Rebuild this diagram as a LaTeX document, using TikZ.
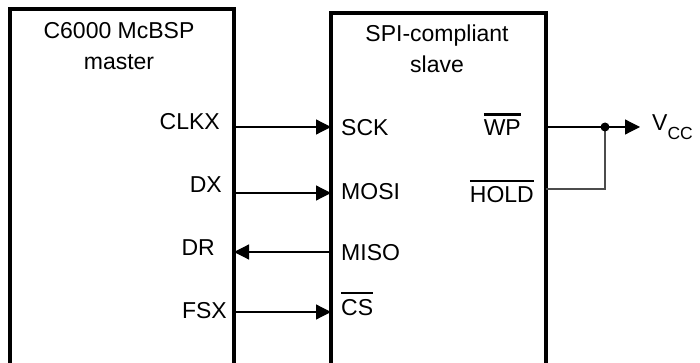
\documentclass[tikz,border=0pt]{standalone}
\usepackage{fontspec}
\setmainfont{Liberation Sans}
\usetikzlibrary{arrows.meta,positioning}

% active-low pin name with a bar over it
\newcommand{\actlow}[1]{\leavevmode\vbox{\hrule height 2.5pt\kern 4.5pt\hbox{#1}}}

\tikzset{
  chip/.style={draw, line width=3.5pt, inner sep=0pt, outer sep=0pt,
    minimum height=420pt, anchor=north west},
  title/.style={align=center, inner sep=0pt, anchor=north,
    font=\fontsize{23}{31}\selectfont},
  lbl/.style={inner sep=0pt, font=\fontsize{23}{27}\selectfont},
  sig/.style={line width=1.2pt, -{Triangle[length=15pt,width=15pt]}},
  tie/.style={line width=1.5pt, black!70},
}

\begin{document}
\begin{tikzpicture}[x=1pt,y=-1pt]
        \useasboundingbox (0,0) rectangle (700,363);
        \clip (0,0) rectangle (700,363);

        % the two devices
        \node[chip, minimum width=224pt] (mcbsp) at (10,9) {};
        \node[chip, minimum width=215pt] (spi) at (331,13) {};
        \node[title] (mcbsptitle) at (119,22) {C6000 McBSP\\master};
        \node[title] (spititle) at (437,25) {SPI-compliant\\slave};

        % pin rows
        \coordinate (clkxpin) at (mcbsp.east |- 0,127);
        \coordinate (dxpin) at (mcbsp.east |- 0,193);
        \coordinate (drpin) at (mcbsp.east |- 0,252);
        \coordinate (fsxpin) at (mcbsp.east |- 0,312);
        \coordinate (sckpin) at (spi.west |- clkxpin);
        \coordinate (mosipin) at (spi.west |- dxpin);
        \coordinate (misopin) at (spi.west |- drpin);
        \coordinate (cspin) at (spi.west |- fsxpin);
        \coordinate (wppin) at (spi.east |- 0,127);
        \coordinate (holdpin) at (spi.east |- 0,189);

        \node[lbl, anchor=base east] (clkx) at (220,130) {CLKX};
        \node[lbl, anchor=base east] (dx) at (222,193) {DX};
        \node[lbl, anchor=base east] (dr) at (215,255) {DR};
        \node[lbl, anchor=base east] (fsx) at (227,318) {FSX};

        \node[lbl, anchor=base west] (sck) at (341,136) {SCK};
        \node[lbl, anchor=base west] (mosi) at (341,200) {MOSI};
        \node[lbl, anchor=base west] (miso) at (341,260) {MISO};
        \node[lbl, anchor=base west] (cs) at (341,315) {\actlow{CS}};
        \node[lbl, anchor=base east] (wp) at (521,136) {\actlow{WP}};
        \node[lbl, anchor=base east] (hold) at (534,203) {\actlow{HOLD}};
        \node[lbl, anchor=base west] (vcc) at (652,131)
          {V\raisebox{-9pt}{\fontsize{17.5}{20}\selectfont CC}};

        % serial lines
        \draw[sig] (clkxpin) -- (sckpin);
        \draw[sig] (dxpin) -- (mosipin);
        \draw[sig] (misopin) -- (drpin);
        \draw[sig] (fsxpin) -- (cspin);

        % WP and HOLD tied high
        \coordinate (tiedot) at (605,127);
        \draw[sig, shorten >=12pt] (wppin) -- (vcc.west |- wppin);
        \draw[tie] (holdpin) -| (tiedot);
        \fill (tiedot) circle (4.5pt);
    \end{tikzpicture}
\end{document}
